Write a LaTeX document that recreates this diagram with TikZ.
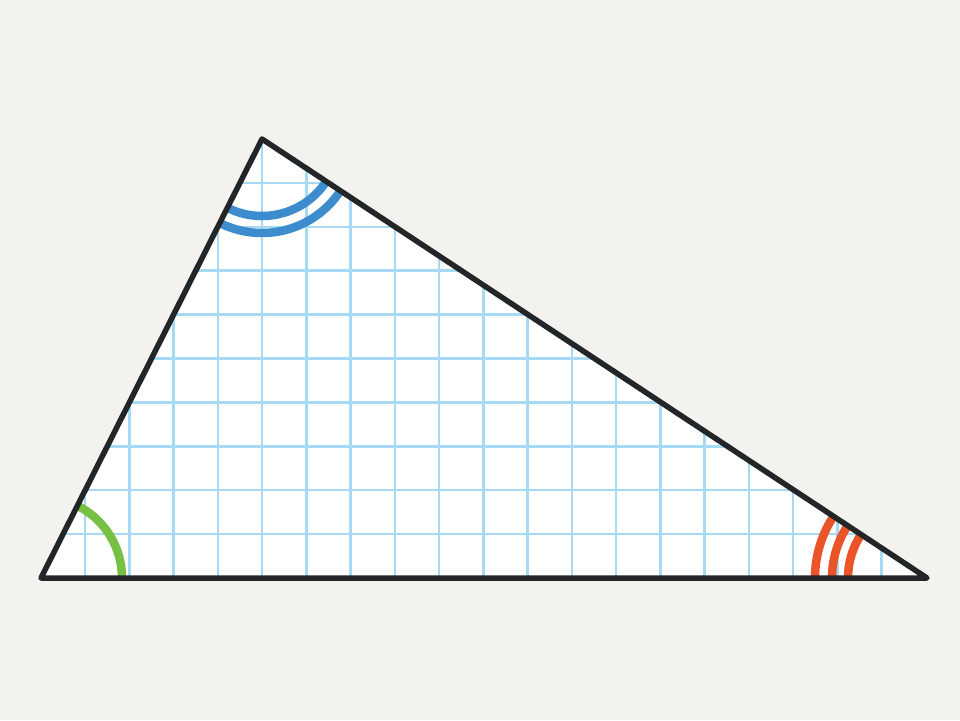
\documentclass[tikz,border=0pt]{standalone}
\usetikzlibrary{calc}
\definecolor{bg}{HTML}{F3F2EE}
\definecolor{gridblue}{HTML}{A6DAF4}
\definecolor{edge}{HTML}{222628}
\definecolor{angA}{HTML}{77C043}
\definecolor{angB}{HTML}{3D8DCE}
\definecolor{angC}{HTML}{EA5428}
\tikzset{
  tri/.style={draw=edge,line width=5.5pt,line join=round,line cap=round},
  gridline/.style={draw=gridblue,line width=2.5pt},
  anglearc/.style={line width=8.5pt,line cap=butt}
}
\begin{document}
\begin{tikzpicture}[x=1pt,y=-1pt]
\fill[bg] (0,0) rectangle (960,720);
\useasboundingbox (0,0) rectangle (960,720);
\coordinate (A) at (41,578);
\coordinate (B) at (262,139);
\coordinate (C) at (927,578);
\fill[white] (A) -- (B) -- (C) -- cycle;
\begin{scope}
  \clip (A) -- (B) -- (C) -- cycle;
  \foreach \i in {-5,...,15} {
    \draw[gridline] ({262+44.25*\i},100) -- ({262+44.25*\i},600);
  }
  \foreach \j in {1,...,10} {
    \draw[gridline] (0,{139+43.9*\j}) -- (960,{139+43.9*\j});
  }
\end{scope}
% angle arcs (y axis is flipped, so angles are negated)
\draw[anglearc,draw=angA] ($(A)+(81,0)$) arc[start angle=0,end angle=-63.3,radius=81];
\draw[anglearc,draw=angB] ($(B)+({77*cos(-243.3)},{77*sin(-243.3)})$) arc[start angle=-243.3,end angle=-326.6,radius=77];
\draw[anglearc,draw=angB] ($(B)+({94*cos(-243.3)},{94*sin(-243.3)})$) arc[start angle=-243.3,end angle=-326.6,radius=94];
\foreach \r in {79,95,112} {
  \draw[anglearc,draw=angC] ($(C)+(-\r,0)$) arc[start angle=-180,end angle=-146.6,radius=\r];
}
\draw[tri] (A) -- (B) -- (C) -- cycle;
\end{tikzpicture}
\end{document}
